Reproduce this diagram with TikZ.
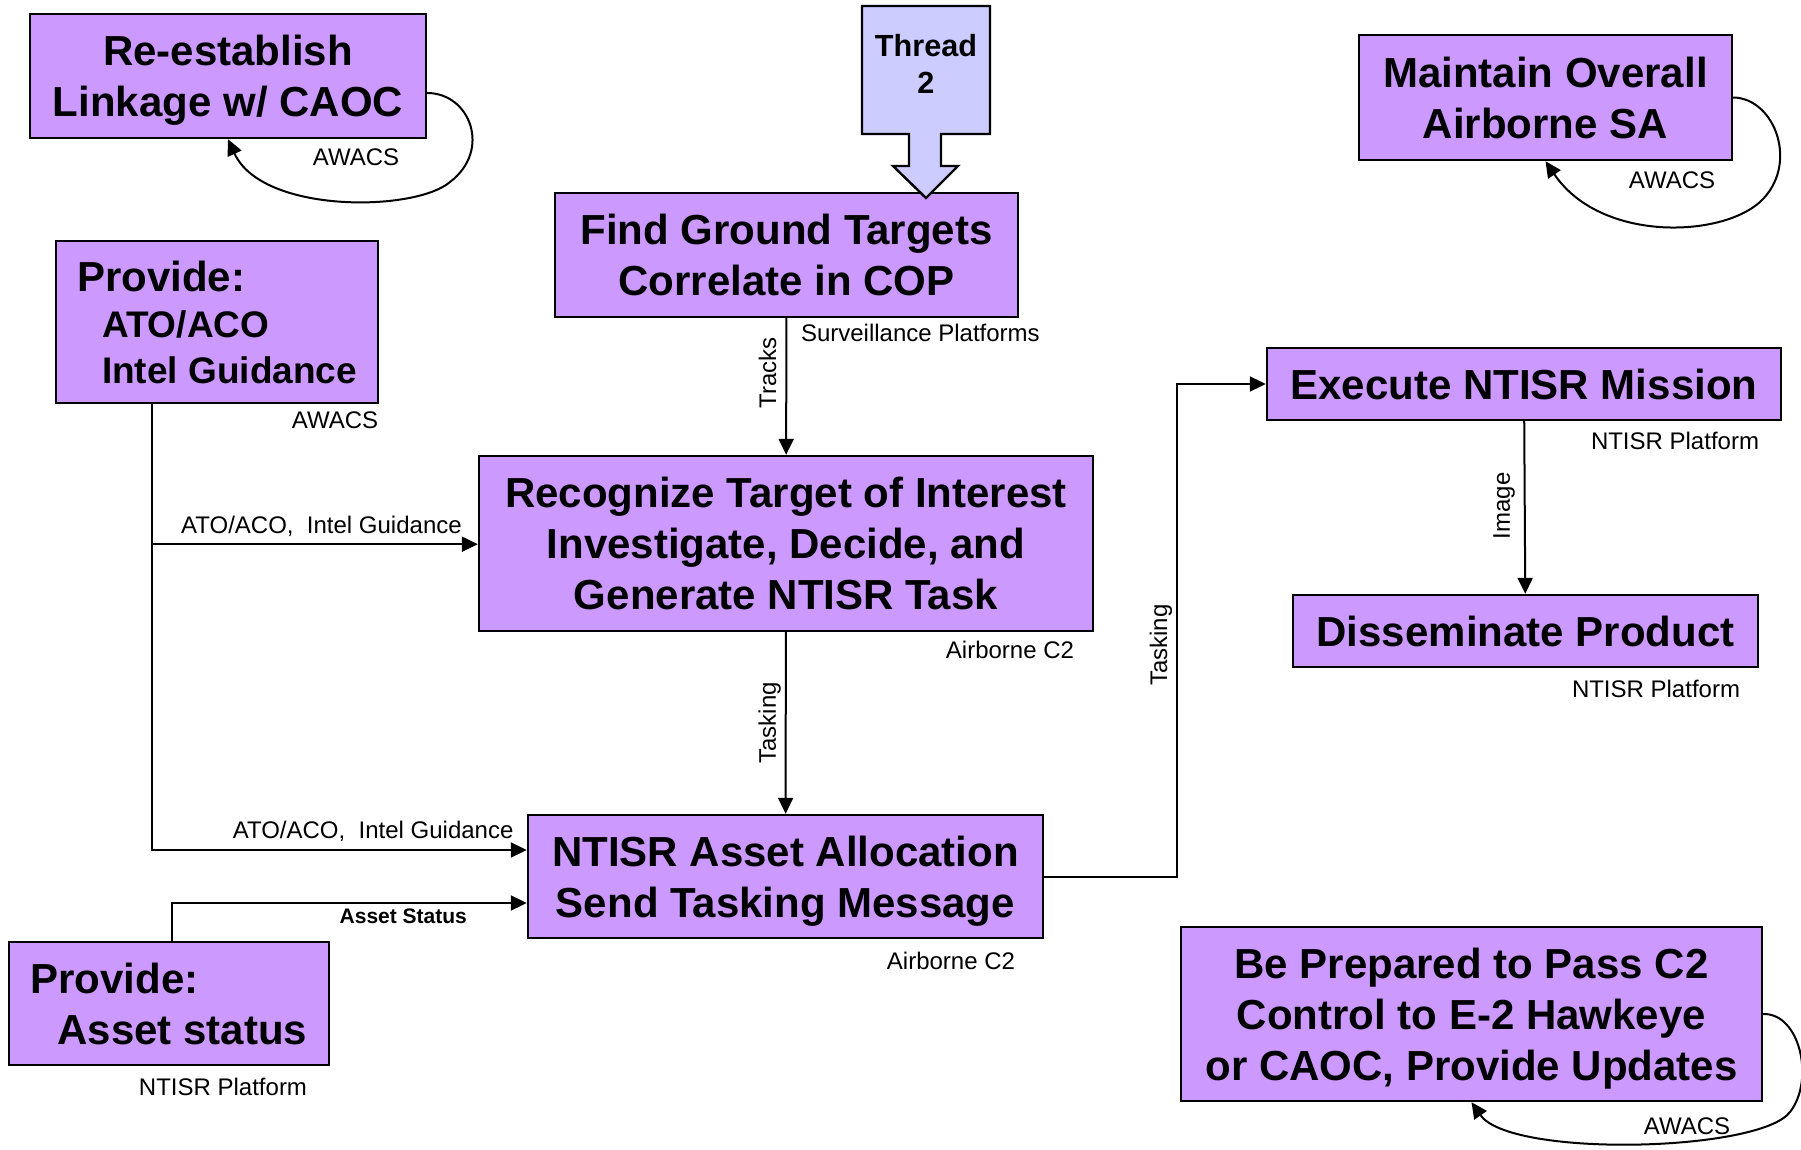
\documentclass[tikz,border=0pt]{standalone}
\usepackage{fontspec}
\setsansfont{Liberation Sans}
\usetikzlibrary{arrows.meta}
\definecolor{boxpurple}{HTML}{CC99FF}
\definecolor{threadblue}{HTML}{CCCCFF}
\tikzset{%
  >={Triangle[width=7.5pt,length=8pt]},
  % Specifications for style of nodes:
            base/.style = {rectangle, draw=black, line width=1.2pt, inner sep=0pt, text depth=0pt,
                           align=center, font=\sffamily\bfseries\fontsize{21}{25.5}\selectfont},
       purplebox/.style = {base, fill=boxpurple},
     threadshape/.style = {draw=black, line width=1.2pt, fill=threadblue},
           owner/.style = {font=\sffamily\fontsize{12}{14}\selectfont, inner sep=1.5pt},
       flowlabel/.style = {owner, inner sep=3.5pt},
        flowvert/.style = {owner, rotate=90, anchor=south, inner sep=2pt},
       boldlabel/.style = {owner, inner sep=2.5pt, font=\sffamily\bfseries\fontsize{10.5}{13}\selectfont},
}

\begin{document}
\begin{tikzpicture}[x=0.5pt, y=-0.5pt, line width=1pt]
  \path[use as bounding box, fill=white] (0,0) rectangle (1801,1150);

  % Specification of nodes (position, etc.)
  \node (reestablish)  [purplebox, minimum width=198pt, minimum height=62pt] at (228,76) {Re-establish\\Linkage w/ CAOC};
  \node (maintain)     [purplebox, minimum width=186.5pt, minimum height=62.5pt] at (1545.5,97.5) {Maintain Overall\\Airborne SA};
  \node (find)         [purplebox, minimum width=231.5pt, minimum height=62pt] at (786.5,255) {Find Ground Targets\\Correlate in COP};
  \node (provideato)   [purplebox, minimum width=161pt, minimum height=81pt, align=left,
                        font=\sffamily\bfseries\fontsize{21}{23}\selectfont] at (217,322)
        {Provide:\\\hspace*{12.5pt}\fontsize{18.5}{23}\selectfont ATO/ACO\\\hspace*{12.5pt}\fontsize{18.5}{23}\selectfont Intel Guidance};
  \node (recognize)    [purplebox, minimum width=307pt, minimum height=87.5pt] at (786,543.5) {Recognize Target of Interest\\Investigate, Decide, and\\Generate NTISR Task};
  \node (execute)      [purplebox, minimum width=257pt, minimum height=36pt] at (1524,384) {Execute NTISR Mission};
  \node (disseminate)  [purplebox, minimum width=232.5pt, minimum height=36pt] at (1525.5,631) {Disseminate Product};
  \node (allocation)   [purplebox, minimum width=257.5pt, minimum height=61.5pt] at (785.5,876.5) {NTISR Asset Allocation\\Send Tasking Message};
  \node (provideasset) [purplebox, minimum width=160pt, minimum height=61.5pt, align=left] at (169,1003.5)
        {Provide:\\\hspace*{13.5pt}Asset status};
  \node (prepared)     [purplebox, minimum width=290.5pt, minimum height=87pt] at (1471.5,1014) {Be Prepared to Pass C2\\Control to E-2 Hawkeye\\or CAOC, Provide Updates};

  % thread callout
  \draw[threadshape] (862,6) -- (990,6) -- (990,134) -- (941,134) -- (941,166) -- (958,166) -- (926,198)
        -- (893,166) -- (909,166) -- (909,134) -- (862,134) -- cycle;
  \node (thread) [font=\sffamily\bfseries\fontsize{15.3}{18.5}\selectfont, align=center] at (926,64) {Thread\\2};

  % who does it
  \node (awacsone)   [owner] at (356,157) {AWACS};
  \node (awacstwo)   [owner] at (1672,180) {AWACS};
  \node (awacsthree) [owner] at (335,420) {AWACS};
  \node (awacsfour)  [owner] at (1687,1126) {AWACS};
  \node (survplat)   [owner, anchor=west] at (797,333) {Surveillance Platforms};
  \node (airbornea)  [owner] at (1010,650) {Airborne C2};
  \node (airborneb)  [owner] at (951,961) {Airborne C2};
  \node (ntisrplata) [owner] at (1675,441) {NTISR Platform};
  \node (ntisrplatb) [owner] at (1656,689) {NTISR Platform};
  \node (ntisrplatc) [owner] at (223,1087) {NTISR Platform};

  % connectors
  \draw[->] (find) -- node[flowvert, pos=0.4, inner sep=4.5pt] {Tracks} (recognize);
  \draw[->] (recognize) -- node[flowvert, pos=0.5] {Tasking} (allocation);
  \draw[->] (execute) -- node[flowvert, pos=0.49, inner sep=4.5pt] {Image} (disseminate);

  \draw[->] (provideato.south) ++(-65,0) |- node[flowlabel, pos=0.795, above] {ATO/ACO,\ \ Intel Guidance} ([yshift=13.25pt]allocation.west);
  \draw[->] (provideato.south) ++(-65,140) coordinate (atojoin) -- node[flowlabel, pos=0.52, above] {ATO/ACO,\ \ Intel Guidance} (atojoin -| recognize.west);
  \draw[->] (provideasset.north) ++(3,0) |- node[boldlabel, pos=0.826, below] {Asset Status} ([yshift=-13.25pt]allocation.west);
  \draw[->] (allocation.east) -- ++(133,0) |- node[flowvert, pos=0.235] {Tasking} (execute.west);

  % self loops
  \draw[->] ([yshift=-8.5pt]reestablish.east) .. controls (470,93) and (492,150) .. (450,182)
        .. controls (415,212) and (262,214) .. (reestablish.south);
  \draw[->] (maintain.east) .. controls (1775,98) and (1800,165) .. (1760,202)
        .. controls (1720,238) and (1600,242) .. (maintain.south);
  \draw[->] (prepared.east) .. controls (1800,1013) and (1815,1080) .. (1790,1112)
        .. controls (1760,1152) and (1510,1158) .. (prepared.south);

\end{tikzpicture}
\end{document}
